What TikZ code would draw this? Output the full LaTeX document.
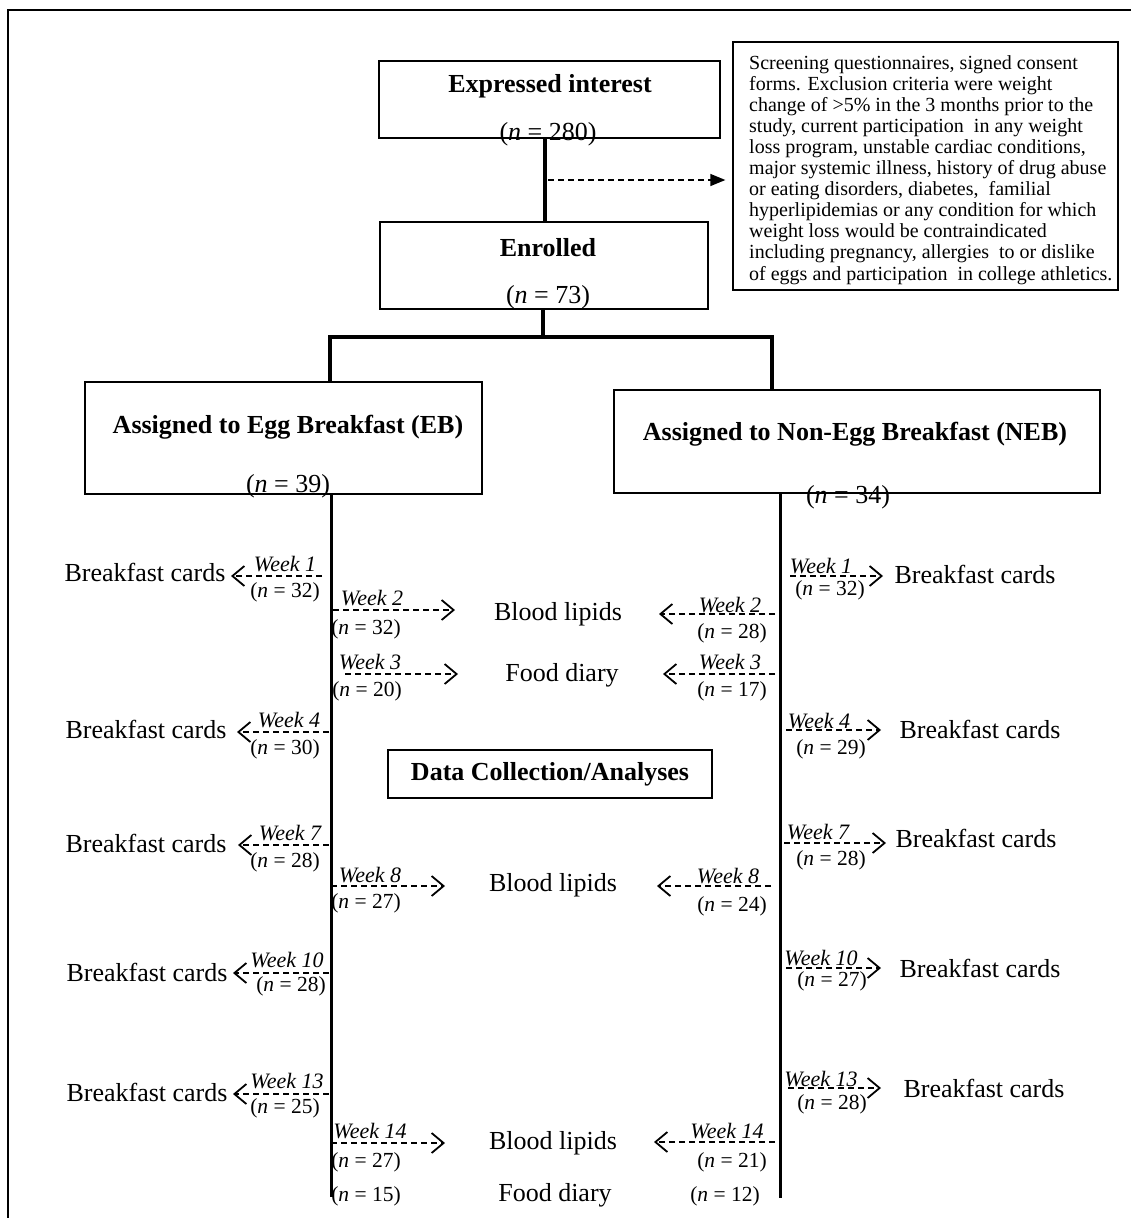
\documentclass[tikz,border=0pt]{standalone}
\usepackage{fontspec}
\setmainfont{Liberation Serif}
\usetikzlibrary{arrows.meta}
\newcommand\nlab[1]{(\textit{n} = #1)}
\begin{document}
\begin{tikzpicture}[x=1pt,y=-1pt,
  box/.style={draw, line width=1.3pt, inner sep=0pt},
  big/.style={font=\fontsize{26}{30}\selectfont, inner sep=1pt},
  bigb/.style={font=\fontsize{26}{30}\selectfont\bfseries, inner sep=1pt},
  wk/.style={font=\fontsize{22}{24}\selectfont\itshape, inner sep=0pt},
  nn/.style={font=\fontsize{21.5}{24}\selectfont, inner sep=0pt},
  thk/.style={line width=4pt},
  med/.style={line width=3pt},
  darr/.style={dash pattern=on 6pt off 4pt, line width=1.3pt, -{Straight Barb[length=12pt,width=20pt,line width=1.8pt]}},
  farr/.style={dash pattern=on 6pt off 4pt, line width=1.3pt, -{Triangle[length=15pt,width=12pt]}},
]
\useasboundingbox (0,0) rectangle (1131,1218);
% outer frame
\coordinate (frTL) at (8,10);
\coordinate (frTR) at (1131,10);
\coordinate (frBL) at (8,1218);
\draw[line width=2pt] (frBL) -- (frTL) -- (frTR);

% boxes
\node[box, minimum width=341pt, minimum height=77pt] (ei) at (549.5,99.5) {};
\node[bigb] (eit) at (550,86) {Expressed interest};
\node[big] (ein) at (548,134) {\nlab{280}};

\node[box, minimum width=328pt, minimum height=87pt] (en) at (544,265.5) {};
\node[bigb] (ent) at (548,248) {Enrolled};
\node[big] (enn) at (548,297) {\nlab{73}};

\node[box, minimum width=385pt, minimum height=248pt] (scr) at (925.5,166) {};
\node[font=\fontsize{20}{21.1}\selectfont, align=left, anchor=north west, inner sep=0pt] (scrt) at (749,55)
{Screening questionnaires, signed consent\\
forms. Exclusion criteria were weight\\
change of >5\% in the 3 months prior to the\\
study, current participation\ \ in any weight\\
loss program, unstable cardiac conditions,\\
major systemic illness, history of drug abuse\\
or eating disorders, diabetes,\ \ familial\\
hyperlipidemias or any condition for which\\
weight loss would be contraindicated\\
including pregnancy, allergies\ \ to or dislike\\
of eggs and participation\ \ in college athletics.};

\node[box, minimum width=397pt, minimum height=112pt] (eb) at (283.5,438) {};
\node[bigb] (ebt) at (288,427) {Assigned to Egg Breakfast (EB)};
\node[big] (ebn) at (288,486) {\nlab{39}};

\node[box, minimum width=486pt, minimum height=103pt] (neb) at (857,441.5) {};
\node[bigb] (nebt) at (855,434) {Assigned to Non-Egg Breakfast (NEB)};
\node[big] (nebn) at (848,497) {\nlab{34}};

\node[box, minimum width=324pt, minimum height=48pt] (dca) at (550,774) {};
\node[bigb] (dcat) at (550,774) {Data Collection/Analyses};

% connectors
\coordinate (xa) at (545,0);
\coordinate (xen) at (543,0);
\coordinate (barL) at (330,337);
\coordinate (barR) at (772,337);
\coordinate (endL) at (331,1197);
\coordinate (endR) at (780,1198);
\draw[thk] (ei.south -| xa) -- (en.north -| xa);
\draw[thk] (en.south -| xen) -- (barL -| xen);
\draw[thk] (eb.north -| barL) -- (barL) -- (barR) -- (neb.north -| barR);
\draw[med] (eb.south -| endL) -- (endL);
\draw[med] (neb.south -| endR) -- (endR);
\coordinate (exS) at (548,180);
\draw[farr, shorten >=7pt] (exS) -- (scr.west |- exS);

% left outer: breakfast cards
\node[big] (lb1) at (145,572) {Breakfast cards};
\draw[darr] (322,576) -- (231,576);
\node[wk] (lw1) at (285,564) {Week 1};
\node[nn] (ln1) at (285,592) {\nlab{32}};

\node[big] (lb4) at (146,729) {Breakfast cards};
\draw[darr] (329,732) -- (237,732);
\node[wk] (lw4) at (289,720) {Week 4};
\node[nn] (ln4) at (285,749) {\nlab{30}};

\node[big] (lb7) at (146,843) {Breakfast cards};
\draw[darr] (329,845) -- (238,845);
\node[wk] (lw7) at (290,833) {Week 7};
\node[nn] (ln7) at (285,862) {\nlab{28}};

\node[big] (lb10) at (147,972) {Breakfast cards};
\draw[darr] (329,973) -- (233,973);
\node[wk] (lw10) at (287,960) {Week 10};
\node[nn] (ln10) at (291,986) {\nlab{28}};

\node[big] (lb13) at (147,1092) {Breakfast cards};
\draw[darr] (329,1094) -- (233,1094);
\node[wk] (lw13) at (287,1081) {Week 13};
\node[nn] (ln13) at (285,1108) {\nlab{25}};

% left inner
\node[big] (mb2) at (558,614) {Blood lipids};
\draw[darr] (333,610) -- (455,610);
\node[wk] (lw2) at (372,598) {Week 2};
\node[nn] (ln2) at (366,629) {\nlab{32}};

\node[big] (mf3) at (562,675) {Food diary};
\draw[darr] (345,674) -- (458,674);
\node[wk] (lw3) at (370,662) {Week 3};
\node[nn] (ln3) at (367,691) {\nlab{20}};

\node[big] (mb8) at (553,885) {Blood lipids};
\draw[darr] (331,886) -- (445,886);
\node[wk] (lw8) at (370,875) {Week 8};
\node[nn] (ln8) at (366,903) {\nlab{27}};

\node[big] (mb14) at (553,1143) {Blood lipids};
\draw[darr] (331,1143) -- (445,1143);
\node[wk] (lw14) at (370,1131) {Week 14};
\node[nn] (ln14) at (366,1162) {\nlab{27}};

\node[nn] (ln15) at (366,1196) {\nlab{15}};
\node[big] (mf15) at (555,1195) {Food diary};
\node[nn] (rn15) at (725,1196) {\nlab{12}};

% right inner
\draw[darr] (775,614) -- (659,614);
\node[wk] (rw2) at (730,605) {Week 2};
\node[nn] (rn2) at (732,633) {\nlab{28}};

\draw[darr] (775,674) -- (663,674);
\node[wk] (rw3) at (730,662) {Week 3};
\node[nn] (rn3) at (732,691) {\nlab{17}};

\draw[darr] (771,886) -- (657,886);
\node[wk] (rw8) at (728,876) {Week 8};
\node[nn] (rn8) at (732,906) {\nlab{24}};

\draw[darr] (775,1142) -- (654,1142);
\node[wk] (rw14) at (727,1131) {Week 14};
\node[nn] (rn14) at (732,1162) {\nlab{21}};

% right outer
\node[big] (rb1) at (975,574) {Breakfast cards};
\draw[darr] (790,576) -- (883,576);
\node[wk] (rw1) at (821,566) {Week 1};
\node[nn] (rn1) at (830,590) {\nlab{32}};

\node[big] (rb4) at (980,729) {Breakfast cards};
\draw[darr] (786,730) -- (881,730);
\node[wk] (rw4) at (819,721) {Week 4};
\node[nn] (rn4) at (831,749) {\nlab{29}};

\node[big] (rb7) at (976,838) {Breakfast cards};
\draw[darr] (784,843) -- (886,843);
\node[wk] (rw7) at (818,832) {Week 7};
\node[nn] (rn7) at (831,860) {\nlab{28}};

\node[big] (rb10) at (980,968) {Breakfast cards};
\draw[darr] (786,968) -- (881,968);
\node[wk] (rw10) at (821,958) {Week 10};
\node[nn] (rn10) at (832,981) {\nlab{27}};

\node[big] (rb13) at (984,1088) {Breakfast cards};
\draw[darr] (788,1088) -- (881,1088);
\node[wk] (rw13) at (821,1079) {Week 13};
\node[nn] (rn13) at (832,1104) {\nlab{28}};
\end{tikzpicture}
\end{document}
